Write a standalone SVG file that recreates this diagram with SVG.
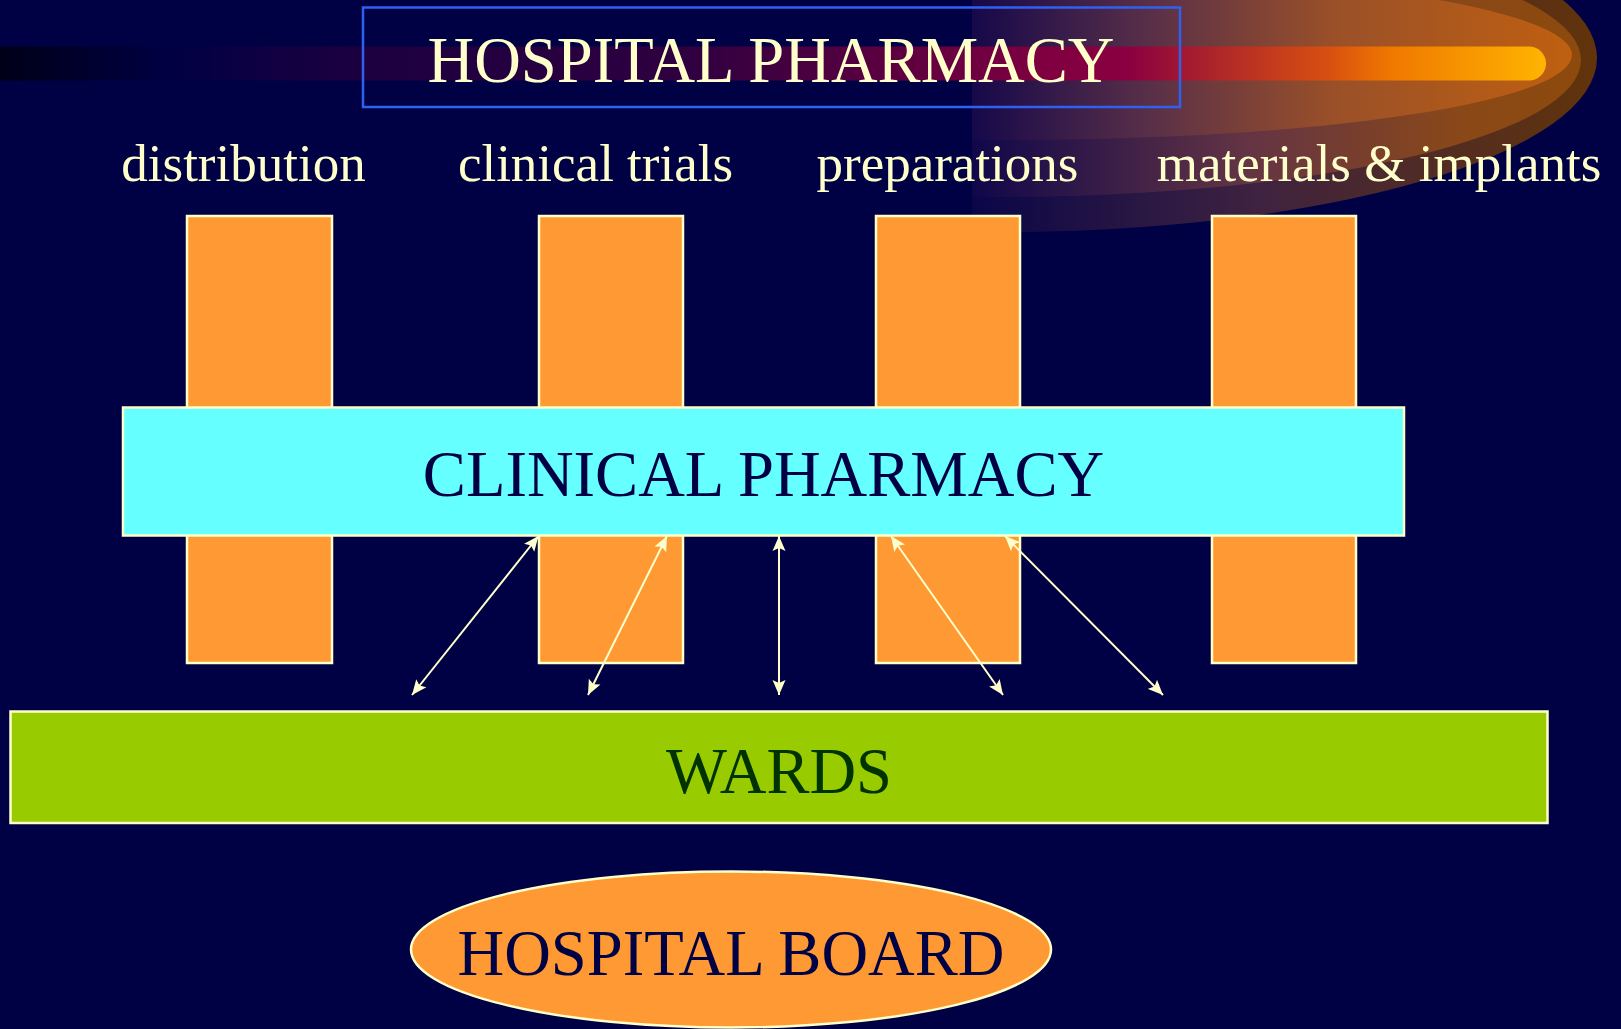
<svg xmlns="http://www.w3.org/2000/svg" width="1621" height="1029" viewBox="0 0 1621 1029">
<style>
.lbl{font-family:"Liberation Serif","Times New Roman",serif;font-size:53px;fill:#ffffcc;text-anchor:middle}
.big{font-family:"Liberation Serif","Times New Roman",serif;font-size:64.6px;text-anchor:middle}
.pillar{fill:#ff9933;stroke:#ffffcc;stroke-width:2.5}
.conn{stroke:#ffffcc;stroke-width:2;fill:none;marker-start:url(#ah);marker-end:url(#ah)}
</style>
<defs>
<marker id="ah" markerUnits="userSpaceOnUse" markerWidth="16" markerHeight="14" refX="15" refY="6.5" orient="auto-start-reverse" viewBox="0 0 16 13">
<path d="M0,0 L15,6.5 L0,13 L3,6.5 z" fill="#ffffcc"/>
</marker>
<linearGradient id="gOuter" gradientUnits="userSpaceOnUse" x1="972" y1="0" x2="1600" y2="0">
<stop offset="0" stop-color="#0a0648"/>
<stop offset="0.45" stop-color="#3e2240"/>
<stop offset="1" stop-color="#62340a"/>
</linearGradient>
<linearGradient id="gMid" gradientUnits="userSpaceOnUse" x1="972" y1="0" x2="1585" y2="0">
<stop offset="0" stop-color="#10074a"/>
<stop offset="0.45" stop-color="#643444"/>
<stop offset="0.8" stop-color="#8a4818"/>
<stop offset="1" stop-color="#8c4a0c"/>
</linearGradient>
<linearGradient id="gIn" gradientUnits="userSpaceOnUse" x1="972" y1="0" x2="1575" y2="0">
<stop offset="0" stop-color="#16084a"/>
<stop offset="0.3" stop-color="#5a3048"/>
<stop offset="0.6" stop-color="#9a5028"/>
<stop offset="1" stop-color="#c06010"/>
</linearGradient>
<linearGradient id="gBand" gradientUnits="userSpaceOnUse" x1="0" y1="0" x2="1546" y2="0">
<stop offset="0" stop-color="#000018"/>
<stop offset="0.11" stop-color="#000044"/>
<stop offset="0.22" stop-color="#1a0040"/>
<stop offset="0.45" stop-color="#300040"/>
<stop offset="0.68" stop-color="#800040"/>
<stop offset="0.73" stop-color="#8a0040"/>
<stop offset="0.79" stop-color="#b02828"/>
<stop offset="0.86" stop-color="#d85010"/>
<stop offset="0.9" stop-color="#f07800"/>
<stop offset="1" stop-color="#ffb400"/>
</linearGradient>
<clipPath id="swClip"><rect x="972" y="0" width="649" height="260"/></clipPath>
</defs>
<rect x="0" y="0" width="1621" height="1029" fill="#000044"/>
<g id="decoration">
<g clip-path="url(#swClip)">
<ellipse cx="1000" cy="58" rx="597" ry="174" fill="url(#gOuter)"/>
<ellipse cx="1000" cy="60" rx="581" ry="137" fill="url(#gMid)"/>
<ellipse cx="1010" cy="55" rx="562" ry="85" fill="url(#gIn)"/>
</g>
<path d="M-10,46.5 H1529 A17,17 0 0 1 1529,80.6 H-10 z" fill="url(#gBand)"/>
</g>
<g id="title">
<rect x="363" y="7.5" width="817" height="99.5" fill="none" stroke="#3060f0" stroke-width="2.5"/>
<text class="big" x="771" y="82" fill="#ffffcc">HOSPITAL PHARMACY</text>
</g>
<g id="labels">
<text class="lbl" x="243.5" y="181">distribution</text>
<text class="lbl" x="595.5" y="181">clinical trials</text>
<text class="lbl" x="947.5" y="181">preparations</text>
<text class="lbl" x="1379" y="181">materials &amp; implants</text>
</g>
<g id="pillar-distribution"><rect class="pillar" x="187" y="216" width="145" height="447"/></g>
<g id="pillar-clinical-trials"><rect class="pillar" x="539" y="216" width="144" height="447"/></g>
<g id="pillar-preparations"><rect class="pillar" x="876" y="216" width="144" height="447"/></g>
<g id="pillar-materials"><rect class="pillar" x="1212" y="216" width="144" height="447"/></g>
<g id="clinical-pharmacy">
<rect x="123" y="407.5" width="1281" height="128" fill="#66ffff" stroke="#ffffcc" stroke-width="2.5"/>
<text class="big" x="763.5" y="496" fill="#000044">CLINICAL PHARMACY</text>
</g>
<g id="wards">
<rect x="10.5" y="711.5" width="1537" height="111.5" fill="#99cc00" stroke="#ffffcc" stroke-width="2.5"/>
<text class="big" x="779" y="793" fill="#003300">WARDS</text>
</g>
<g id="hospital-board">
<ellipse cx="731" cy="949.5" rx="320" ry="78" fill="#ff9933" stroke="#ffffcc" stroke-width="2.5"/>
<text class="big" x="731" y="975" fill="#000044">HOSPITAL BOARD</text>
</g>
<g id="connectors">
<line class="conn" x1="538.5" y1="536" x2="412" y2="695"/>
<line class="conn" x1="667" y1="536" x2="588" y2="695"/>
<line class="conn" x1="779" y1="536" x2="779" y2="695"/>
<line class="conn" x1="891" y1="536" x2="1003" y2="695"/>
<line class="conn" x1="1005" y1="536" x2="1163" y2="695"/>
</g>
</svg>
